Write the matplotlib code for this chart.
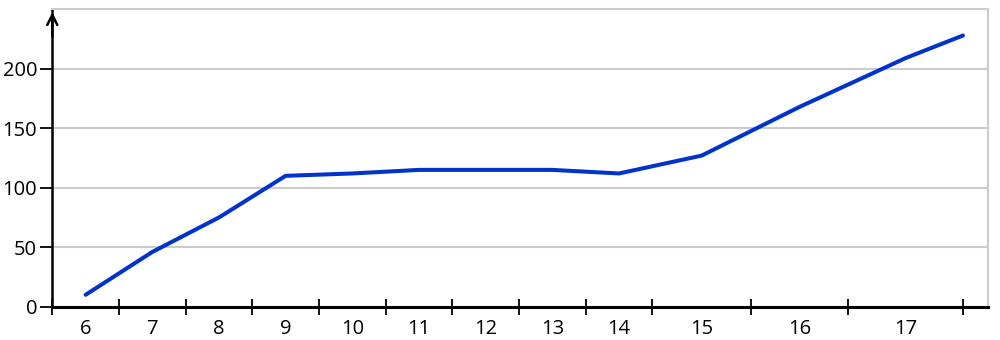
"""Line chart with banded x axis (labels between ticks) and arrowed y axis."""
import numpy as np
import matplotlib
matplotlib.use("Agg")
import matplotlib.pyplot as plt

plt.rcParams["font.family"] = ["Open Sans", "DejaVu Sans"]

labels = ["6", "7", "8", "9", "10", "11", "12", "13", "14", "15", "16", "17"]
band_widths = [1, 1, 1, 1, 1, 1, 1, 1, 1, 1.48, 1.46, 1.72]
# values at band centres, plus the closing value at the right edge of the last band
values = [10, 46, 75, 110, 112, 115, 115, 115, 112, 127, 168, 209]
end_value = 228
yticks = [0, 50, 100, 150, 200]

LINE_COLOR = "#0033cc"
GRID_COLOR = "#cccccc"

edges = np.concatenate([[0], np.cumsum(band_widths)])
centres = (edges[:-1] + edges[1:]) / 2
xs = list(centres) + [edges[-1]]
ys = values + [end_value]

fig = plt.figure(figsize=(10, 3.4), dpi=100)
ax = fig.add_axes([0.0523, 0.098, 0.936, 0.8746])

ax.plot(xs, ys, color=LINE_COLOR, lw=2.9, solid_capstyle="round", solid_joinstyle="round", zorder=3)

ax.set_xlim(0, edges[-1] + 0.38)
ax.set_ylim(0, 250)

# y axis
ax.set_yticks(yticks)
ax.tick_params(axis="y", direction="out", length=9, width=1.3, pad=2, labelsize=14.5, colors="black")
ax.yaxis.grid(True, color=GRID_COLOR, lw=1.5)
ax.set_axisbelow(True)

# x axis: ticks at band edges, labels at band centres
ax.set_xticks(edges)
ax.set_xticklabels([])
ax.set_xticks(centres, minor=True)
ax.set_xticklabels(labels, minor=True)
ax.tick_params(axis="x", which="major", direction="inout", length=11, width=1.3)
ax.tick_params(axis="x", which="minor", length=0, pad=9, labelsize=14.5)

for side in ("top", "right"):
    ax.spines[side].set_color(GRID_COLOR)
    ax.spines[side].set_linewidth(1.5)
ax.spines["left"].set_linewidth(1.8)
ax.spines["bottom"].set_linewidth(2.2)
ax.spines["bottom"].set_zorder(4)

# arrow head on the y axis
ax.annotate("", xy=(0, 1.0), xytext=(0, 0.9), xycoords="axes fraction",
            arrowprops=dict(arrowstyle="->", color="black", lw=1.8, mutation_scale=18),
            annotation_clip=False)

fig.savefig("out.png", dpi=100)
